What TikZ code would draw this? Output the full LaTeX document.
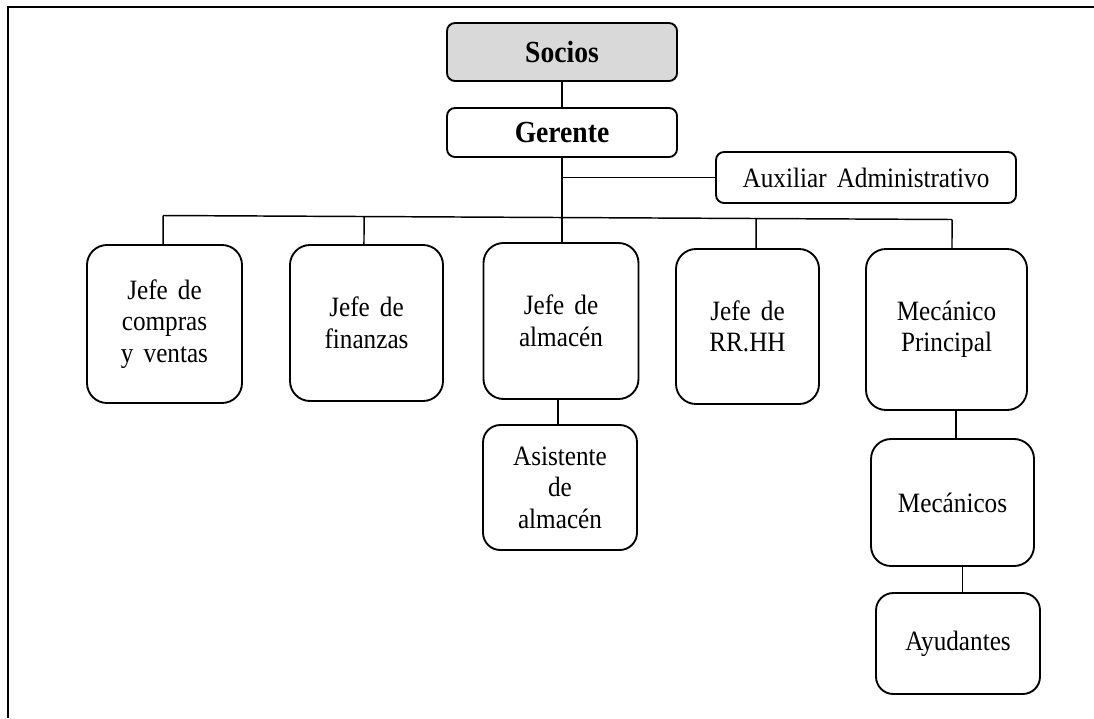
\documentclass[tikz,border=0pt]{standalone}
\usepackage{fontspec}
\setmainfont{Liberation Serif}[FakeStretch=0.9, WordSpace=1.6]
\usetikzlibrary{calc}
\definecolor{socgray}{RGB}{217,217,217}
\newcommand{\regtext}{\fontsize{21pt}{23.6pt}\selectfont}
\newcommand{\headtext}{\fontsize{23pt}{25pt}\selectfont\bfseries}
\begin{document}
\begin{tikzpicture}[x=0.75pt,y=-0.75pt,
  box/.style={draw, line width=1.4pt, align=center, inner sep=0pt, font=\regtext},
  small/.style={rounded corners=6pt},
  big/.style={rounded corners=15pt},
  mid/.style={rounded corners=13pt},
  link/.style={line width=1.1pt},
]
\useasboundingbox (0,0) rectangle (1094,718);
% page frame
\draw[line width=1.9pt] (8,718) -- (8,7) -- (1094,7);

% top of the chart
\node[box, small, fill=socgray, font=\headtext, minimum width=172.5pt, minimum height=43.5pt] (socios) at (562,52) {Socios};
\node[box, small, font=\headtext, minimum width=172.5pt, minimum height=36.75pt] (gerente) at (562,132.5) {Gerente};
\node[box, small, minimum width=225pt, minimum height=38.25pt] (aux) at (866,177.5) {Auxiliar Administrativo};

% department heads
\node[box, big, minimum width=116.25pt, minimum height=118.5pt] (compras) at (164.5,324) {Jefe de\\compras\\y ventas};
\node[box, big, minimum width=114.75pt, minimum height=117pt] (finanzas) at (366.5,323) {Jefe de\\finanzas};
\node[box, big, minimum width=116.25pt, minimum height=117pt] (almacen) at (561,321) {Jefe de\\almacén};
\node[box, big, minimum width=107.25pt, minimum height=116.25pt] (rrhh) at (747.5,326.5) {Jefe de\\RR.HH};
\node[box, big, minimum width=120.75pt, minimum height=120.75pt] (mecp) at (946.5,329.5) {Mecánico\\Principal};

% lower levels
\node[box, mid, minimum width=115.5pt, minimum height=93.75pt] (asistente) at (560,487.5) {Asistente\\de\\almacén};
\node[box, big, minimum width=122.25pt, minimum height=95.25pt] (mecanicos) at (952.5,502.5) {Mecánicos};
\node[box, mid, minimum width=123pt, minimum height=75.75pt] (ayudantes) at (958,643.5) {Ayudantes};

% connectors
\draw[link] (socios.south) -- (gerente.north);
\draw[link] (gerente.south) -- (gerente.south |- almacen.north);
\draw[link] (gerente.south |- aux.west) -- (aux.west);

\coordinate (bl) at (163,215.5);
\coordinate (br) at (952,219.5);
\draw[link] (bl) -- (br);

\coordinate (dcompras) at ([xshift=-1.1pt]compras.north);
\coordinate (dfinanzas) at ([xshift=-1.9pt]finanzas.north);
\coordinate (drrhh) at ([xshift=6.4pt]rrhh.north);
\coordinate (dmecp) at ([xshift=4.1pt]mecp.north);
\draw[link] (dcompras) -- ($(bl)!(dcompras)!(br)$);
\draw[link] (dfinanzas) -- ($(bl)!(dfinanzas)!(br)$);
\draw[link] (drrhh) -- ($(bl)!(drrhh)!(br)$);
\draw[link] (dmecp) -- ($(bl)!(dmecp)!(br)$);

\draw[link] ([xshift=-1.5pt]asistente.north) -- ([xshift=-1.5pt]asistente.north |- almacen.south);
\draw[link] ([xshift=2.6pt]mecanicos.north) -- ([xshift=2.6pt]mecanicos.north |- mecp.south);
\draw[link] ([xshift=3.4pt]ayudantes.north) -- ([xshift=3.4pt]ayudantes.north |- mecanicos.south);
\end{tikzpicture}
\end{document}
